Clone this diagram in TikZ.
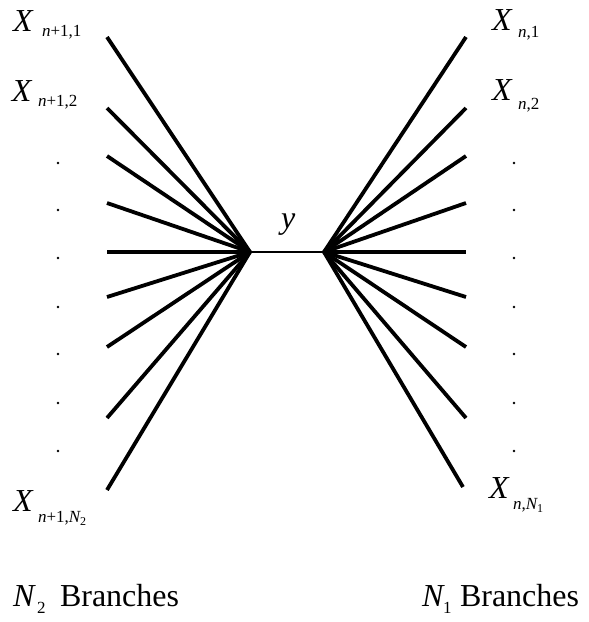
\documentclass[tikz,border=0pt]{standalone}
\usepackage{fontspec}
\setmainfont{Liberation Serif}
\newcommand\bigf{\fontsize{32}{32}\selectfont}
\newcommand\subf{\fontsize{17}{17}\selectfont}
\newcommand\ssubf{\fontsize{12}{12}\selectfont}
\begin{document}
\begin{tikzpicture}[x=1pt,y=-1pt,
  branch/.style={line width=3.8pt},
  link/.style={line width=2pt},
  lbl/.style={anchor=base west,inner sep=0pt,outer sep=0pt,font=\bigf\itshape},
  sublbl/.style={anchor=base west,inner sep=0pt,outer sep=0pt,font=\subf},
  dotmark/.style={fill=black}]
\useasboundingbox (0,0) rectangle (589,622);
% hubs
\coordinate (hl) at (250,252);
\coordinate (hr) at (324,252);
% left ends
\foreach \i/\yy in {1/37,2/108,3/156,4/203,5/252,6/297,7/347,8/418,9/490}{
  \coordinate (L\i) at (107,\yy);
  \draw[branch] (hl) -- (L\i);
}
% right ends
\foreach \i/\yy/\xx in {1/37/466,2/108/466,3/156/466,4/203/466,5/252/466,6/297/466,7/347/466,8/418/466,9/487/463}{
  \coordinate (R\i) at (\xx,\yy);
  \draw[branch] (hr) -- (R\i);
}
\draw[link] (hl) -- (hr);
% dots
\foreach \i/\yy in {1/163,2/210,3/258,4/307,5/354,6/403,7/451}{
  \fill[dotmark] (58,\yy) circle (1.4pt) coordinate (ld\i);
  \fill[dotmark] (514,\yy) circle (1.4pt) coordinate (rd\i);
}
% y label
\node[lbl] (ylab) at (281,228) {y};
% left labels
\node[lbl] (lx1) at (13,31) {X};
\node[sublbl] (lx1s) at (42,36) {\itshape n\upshape +1,1};
\node[lbl] (lx2) at (12,101.5) {X};
\node[sublbl] (lx2s) at (38,106) {\itshape n\upshape +1,2};
\node[lbl] (lx3) at (13,511.5) {X};
\node[sublbl] (lx3s) at (38,522.5) {\itshape n\upshape +1,\itshape N\raisebox{-2.5pt}{\ssubf\upshape 2}};
% right labels
\node[lbl] (rx1) at (492,30) {X};
\node[sublbl] (rx1s) at (518,37.5) {\itshape n\upshape ,1};
\node[lbl] (rx2) at (492,100) {X};
\node[sublbl] (rx2s) at (518,109.5) {\itshape n\upshape ,2};
\node[lbl] (rx3) at (489,498) {X};
\node[sublbl] (rx3s) at (513,509.5) {\itshape n\upshape ,\itshape N\raisebox{-2.5pt}{\ssubf\upshape 1}};
% bottom captions
\node[lbl] (n2) at (13,606) {N};
\node[sublbl] (n2s) at (37,613) {2};
\node[lbl,font=\bigf\upshape] (n2b) at (60,606) {Branches};
\node[lbl] (n1) at (422,606) {N};
\node[sublbl] (n1s) at (443,613) {1};
\node[lbl,font=\bigf\upshape] (n1b) at (460,606) {Branches};
\end{tikzpicture}
\end{document}
